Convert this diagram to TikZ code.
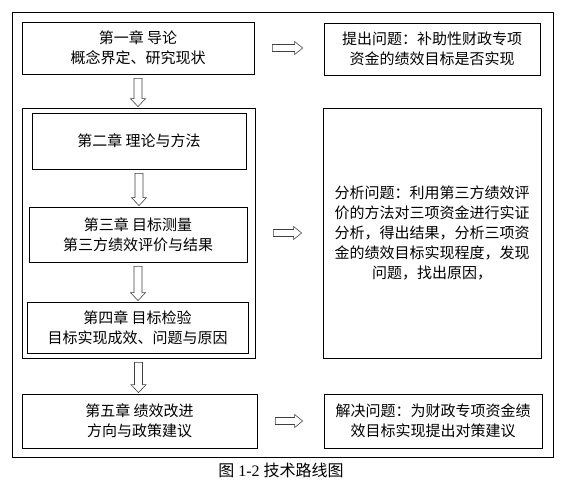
\documentclass[tikz,border=0pt]{standalone}
\usepackage{fontspec}
\setmainfont{Liberation Serif}
\newfontfamily\cjk{Noto Sans CJK SC}
\usetikzlibrary{calc}
\tikzset{
  chbox/.style  = {draw=black, line width=0.8pt, align=center, inner sep=2pt,
                   font=\cjk\fontsize{15}{20}\selectfont},
  frame/.style  = {draw=black, line width=0.8pt},
  hollow/.style = {draw=black!75, line width=0.6pt, fill=white},
  capt/.style   = {font=\fontsize{16}{18}\selectfont},
}
% hollow block arrows between named nodes
\newcommand\rarrow[2]{%
  \draw[hollow] let \p1=(#1.east), \p2=(#2.west) in
    (\x1+18pt,\y1+3.5pt) -- (\x2-29pt,\y1+3.5pt) -- (\x2-29pt,\y1+6.5pt)
    -- (\x2-21pt,\y1) -- (\x2-29pt,\y1-6.5pt) -- (\x2-29pt,\y1-3.5pt)
    -- (\x1+18pt,\y1-3.5pt) -- cycle;}
\newcommand\darrow[2]{%
  \draw[hollow] let \p1=(#1.south), \p2=(#2.north) in
    (\x1-4pt,\y1-4pt) -- (\x1-4pt,\y2+9pt) -- (\x1-7.5pt,\y2+9pt)
    -- (\x1,\y2+1pt) -- (\x1+7.5pt,\y2+9pt) -- (\x1+4pt,\y2+9pt)
    -- (\x1+4pt,\y1-4pt) -- cycle;}

\begin{document}
\begin{tikzpicture}[x=1pt, y=-1pt]
  \useasboundingbox (0,0) rectangle (562,488);
  \node[frame, minimum width=541pt, minimum height=445pt] (outer) at (282.5,234.5) {};
  % left column
  \node[chbox, minimum width=232pt, minimum height=52pt] (ch1) at (138,48)
    {第一章 导论\\概念界定、研究现状};
  \node[frame, minimum width=233pt, minimum height=250pt] (inner) at (138.5,233) {};
  \node[chbox, minimum width=214pt, minimum height=56pt] (ch2) at (139,141)
    {第二章 理论与方法};
  \node[chbox, minimum width=218pt, minimum height=55pt] (ch3) at (138,234.5)
    {第三章 目标测量\\第三方绩效评价与结果};
  \node[chbox, minimum width=221pt, minimum height=51pt] (ch4) at (137.5,327.5)
    {第四章 目标检验\\目标实现成效、问题与原因};
  \node[chbox, minimum width=235pt, minimum height=54pt] (ch5) at (139.5,421)
    {第五章 绩效改进\\方向与政策建议};
  % right column
  \node[chbox, minimum width=216pt, minimum height=52pt] (ask) at (432,49)
    {提出问题：补助性财政专项\\资金的绩效目标是否实现};
  \node[chbox, minimum width=218pt, minimum height=250pt] (analyse) at (432,233)
    {分析问题：利用第三方绩效评\\价的方法对三项资金进行实证\\分析，得出结果，分析三项资\\金的绩效目标实现程度，发现\\问题，找出原因，};
  \node[chbox, minimum width=218pt, minimum height=54pt] (solve) at (433,421)
    {解决问题：为财政专项资金绩\\效目标实现提出对策建议};
  % arrows
  \darrow{ch1}{inner}
  \darrow{ch2}{ch3}
  \darrow{ch3}{ch4}
  \darrow{inner}{ch5}
  \rarrow{ch1}{ask}
  \rarrow{inner}{analyse}
  \rarrow{ch5}{solve}
  \node[capt] (caption) at (281,470) {{\cjk 图} 1-2 {\cjk 技术路线图}};
\end{tikzpicture}
\end{document}
